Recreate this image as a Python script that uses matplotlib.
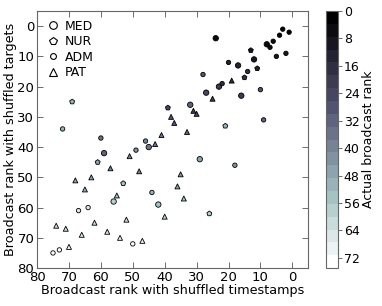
#Broadcast rank scatter: shuffled timestamps vs shuffled targets

import numpy as np
import matplotlib
matplotlib.use('Agg')
import matplotlib.pyplot as plt
from matplotlib.lines import Line2D

#Data: (rank shuffled timestamps, rank shuffled targets, actual rank)
med_x = [24, 8, 12, 17, 23, 27, 16, 45, 59, 29, 42, 56, 32]
med_y = [4, 6, 11, 13, 20, 22, 23, 40, 42, 44, 59, 58, 26]
med_c = [4, 6, 11, 13, 20, 24, 22, 34, 32, 45, 56, 57, 33]

nur_x = [15, 61, 26, 69, 21, 39, 13, 11, 53]
nur_y = [17, 45, 62, 25, 33, 27, 8, 14, 52]
nur_c = [16, 48, 58, 50, 50, 26, 8, 14, 53]

adm_x = [3, 1, 4, 6, 7, 2, 5, 20, 14, 28, 22, 10, 9, 72, 60, 46, 49, 18, 44, 64, 67, 50, 73, 75]
adm_y = [1, 2, 3, 5, 7, 9, 10, 12, 15, 16, 19, 21, 31, 34, 37, 38, 41, 46, 55, 60, 61, 72, 74, 75]
adm_c = [2, 1, 3, 5, 7, 9, 10, 12, 15, 28, 18, 28, 30, 52, 36, 40, 44, 42, 51, 65, 66, 72, 73, 74]

pat_x = [19, 25, 31, 30, 38, 37, 33, 41, 43, 51, 57, 48, 35, 63, 68, 36, 65, 55, 34,
         40, 52, 62, 74, 71, 58, 66, 54, 47, 70]
pat_y = [18, 24, 28, 29, 30, 32, 35, 36, 39, 43, 47, 48, 49, 50, 51, 53, 54, 56, 57,
         63, 64, 65, 66, 67, 68, 69, 70, 71, 73]
pat_c = [17, 19, 21, 23, 27, 29, 31, 35, 37, 38, 39, 41, 43, 46, 47, 45, 49, 54, 55,
         59, 60, 61, 62, 63, 64, 67, 68, 69, 70]

cbar_ticks = [0, 8, 16, 24, 32, 40, 48, 56, 64, 72]

plt.rcParams['font.family'] = 'DejaVu Sans'
plt.rcParams['font.size'] = 9

fig = plt.figure(figsize=(3.82, 3.06), dpi=100)
ax = fig.add_axes([0.097, 0.124, 0.71, 0.84])
cax = fig.add_axes([0.853, 0.124, 0.032, 0.84])

cmap = plt.get_cmap('bone', 20)
norm = plt.Normalize(0, 75)

kw = dict(cmap=cmap, norm=norm, edgecolors='black', linewidths=0.6, zorder=3)
sc = ax.scatter(med_x, med_y, c=med_c, marker='o', s=15, **kw)
ax.scatter(nur_x, nur_y, c=nur_c, marker='p', s=14, **kw)
ax.scatter(adm_x, adm_y, c=adm_c, marker='o', s=10, **kw)
ax.scatter(pat_x, pat_y, c=pat_c, marker='^', s=13, **kw)

ax.set_xlim(80, -5)
ax.set_ylim(80, -5)
ax.set_xticks(np.arange(80, -1, -10))
ax.set_yticks(np.arange(0, 81, 10))
ax.tick_params(direction='in', top=True, right=True, length=4, width=0.6,
               labelsize=9.5, pad=2, colors='#555555', labelcolor='black')
for sp in ax.spines.values():
    sp.set_color('#666666')
    sp.set_linewidth(0.8)
ax.set_xlabel('Broadcast rank with shuffled timestamps', fontsize=9.2, labelpad=0)
ax.set_ylabel('Broadcast rank with shuffled targets', fontsize=9.2, labelpad=0)

#Legend with white markers
handles = [Line2D([], [], ls='none', marker='o', ms=5.5, mfc='white', mec='black', mew=0.8),
           Line2D([], [], ls='none', marker='p', ms=5.5, mfc='white', mec='black', mew=0.8),
           Line2D([], [], ls='none', marker='o', ms=4.2, mfc='white', mec='black', mew=0.8),
           Line2D([], [], ls='none', marker='^', ms=5.5, mfc='white', mec='black', mew=0.8)]
ax.legend(handles, ['MED', 'NUR', 'ADM', 'PAT'], loc='upper left', frameon=False,
          fontsize=9, handletextpad=0.3, labelspacing=0.2, borderaxespad=0.3,
          handlelength=1.2)

cb = fig.colorbar(sc, cax=cax)
cb.set_ticks(cbar_ticks)
cax.invert_yaxis()
cb.outline.set_edgecolor('#666666')
cb.outline.set_linewidth(0.8)
cax.tick_params(labelsize=9, length=3, width=0.6, pad=1, colors='#555555', labelcolor='black')
cb.set_label('Actual broadcast rank', fontsize=9, labelpad=2)

fig.savefig('out.png', dpi=100)
